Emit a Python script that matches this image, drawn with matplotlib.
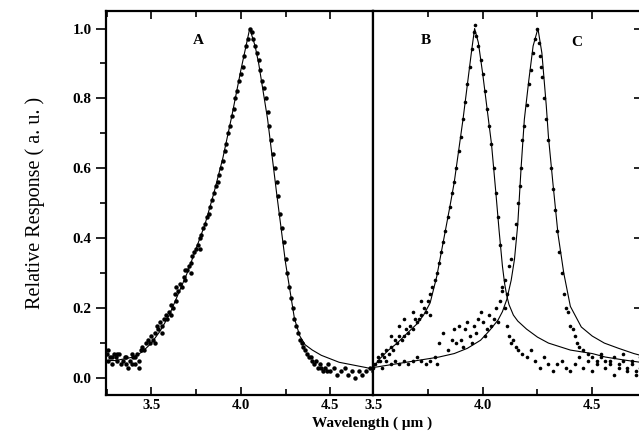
import matplotlib
matplotlib.use("Agg")
import matplotlib.pyplot as plt
from matplotlib.ticker import MultipleLocator

plt.rcParams['font.family'] = ['Liberation Serif', 'DejaVu Serif']

# ---- panel A : measured points ----
xA_pts = [3.25, 3.26, 3.27, 3.28, 3.29, 3.30, 3.31, 3.32, 3.33, 3.34, 3.35, 3.36, 3.37, 3.38, 3.39,
          3.40, 3.41, 3.42, 3.43, 3.44, 3.45, 3.46, 3.47, 3.48, 3.49, 3.50, 3.51, 3.52, 3.53, 3.54,
          3.55, 3.56, 3.57, 3.58, 3.59, 3.60, 3.61, 3.62, 3.63, 3.64, 3.65, 3.66, 3.67, 3.68, 3.69,
          3.70, 3.71, 3.72, 3.73, 3.74, 3.75, 3.76, 3.77, 3.78, 3.79, 3.80, 3.81, 3.82, 3.83, 3.84,
          3.85, 3.86, 3.87, 3.88, 3.89, 3.90, 3.91, 3.92, 3.93, 3.94, 3.95, 3.96, 3.97, 3.98, 3.99,
          4.00, 4.01, 4.02, 4.03, 4.04, 4.05,
          3.26, 3.28, 3.31, 3.36, 3.39, 3.41, 3.43, 3.52, 3.56, 3.61, 3.64, 3.69, 3.72, 3.77,
          4.06, 4.07, 4.08, 4.09, 4.10, 4.11, 4.12, 4.13, 4.14, 4.15, 4.16, 4.17, 4.18, 4.19, 4.20,
          4.21, 4.22, 4.23, 4.24, 4.25, 4.26, 4.27, 4.28, 4.29, 4.30, 4.31, 4.32, 4.33, 4.34, 4.35,
          4.36, 4.37, 4.38, 4.39, 4.40, 4.41, 4.42, 4.43, 4.44, 4.45, 4.46, 4.47, 4.48, 4.49, 4.50,
          4.52, 4.54, 4.56, 4.58, 4.60, 4.62, 4.64, 4.66, 4.68, 4.70, 4.72, 4.74]
yA_pts = [0.07, 0.05, 0.06, 0.04, 0.07, 0.06, 0.05, 0.07, 0.04, 0.05, 0.06, 0.04, 0.03, 0.05, 0.07,
          0.06, 0.04, 0.07, 0.05, 0.08, 0.09, 0.08, 0.10, 0.11, 0.10, 0.12, 0.11, 0.13, 0.15, 0.14,
          0.16, 0.15, 0.17, 0.18, 0.17, 0.19, 0.21, 0.20, 0.24, 0.22, 0.25, 0.27, 0.26, 0.29, 0.28,
          0.31, 0.32, 0.33, 0.35, 0.36, 0.37, 0.38, 0.40, 0.41, 0.43, 0.44, 0.46, 0.47, 0.49, 0.51,
          0.53, 0.55, 0.56, 0.58, 0.60, 0.62, 0.65, 0.67, 0.70, 0.72, 0.75, 0.77, 0.80, 0.82, 0.85,
          0.87, 0.89, 0.92, 0.95, 0.97, 1.00,
          0.08, 0.06, 0.07, 0.06, 0.04, 0.06, 0.03, 0.10, 0.13, 0.18, 0.26, 0.31, 0.30, 0.37,
          0.99, 0.97, 0.95, 0.93, 0.91, 0.88, 0.85, 0.83, 0.80, 0.76, 0.72, 0.68, 0.64, 0.60, 0.56,
          0.52, 0.47, 0.43, 0.39, 0.34, 0.30, 0.26, 0.23, 0.20, 0.17, 0.15, 0.13, 0.11, 0.10, 0.09,
          0.08, 0.07, 0.06, 0.06, 0.05, 0.04, 0.05, 0.03, 0.04, 0.03, 0.02, 0.03, 0.02, 0.04, 0.02,
          0.03, 0.01, 0.02, 0.03, 0.01, 0.02, 0.00, 0.02, 0.01, 0.02, 0.03, 0.02]

# ---- panel A : fitted curve ----
xA_fit = [3.25, 3.30, 3.35, 3.40, 3.45, 3.50, 3.55, 3.60, 3.65, 3.70, 3.75, 3.80, 3.85, 3.90,
          3.95, 4.00, 4.05, 4.08, 4.10, 4.15, 4.20, 4.25, 4.30, 4.33, 4.36, 4.40, 4.45, 4.50,
          4.55, 4.60, 4.65, 4.70, 4.74]
yA_fit = [0.05, 0.05, 0.055, 0.06, 0.075, 0.10, 0.135, 0.18, 0.24, 0.30, 0.37, 0.44, 0.53, 0.63,
          0.75, 0.88, 1.00, 0.95, 0.90, 0.74, 0.53, 0.33, 0.17, 0.12, 0.095, 0.08, 0.065, 0.055,
          0.045, 0.04, 0.035, 0.03, 0.025]

# ---- panel B : measured points ----
xB_pts = [3.50, 3.51, 3.52, 3.53, 3.54, 3.55, 3.56, 3.57, 3.58, 3.59, 3.60, 3.61, 3.62, 3.63, 3.64,
          3.65, 3.66, 3.67, 3.68, 3.69, 3.70, 3.71, 3.72, 3.73, 3.74, 3.75, 3.76, 3.77, 3.78, 3.79,
          3.80, 3.81, 3.82, 3.83, 3.84, 3.85, 3.86, 3.87, 3.88, 3.89, 3.90, 3.91, 3.92, 3.93, 3.94,
          3.95, 3.96, 3.965, 3.97, 3.98, 3.99, 4.00, 4.01, 4.02, 4.03, 4.04, 4.05, 4.06, 4.07, 4.08,
          4.09, 4.10, 4.11, 4.12, 4.13, 4.14, 4.15, 4.16, 4.18, 4.20, 4.22, 4.24, 4.26, 4.28, 4.30,
          4.32, 4.34, 4.36, 4.38, 4.40, 4.42, 4.44, 4.46, 4.48, 4.50, 4.52, 4.54, 4.56, 4.58, 4.60,
          4.62, 4.64, 4.66, 4.68, 4.70, 4.72,
          3.58, 3.62, 3.64, 3.68, 3.72, 3.76]
yB_pts = [0.03, 0.04, 0.06, 0.05, 0.07, 0.06, 0.08, 0.07, 0.09, 0.08, 0.11, 0.10, 0.12, 0.11, 0.12,
          0.14, 0.13, 0.15, 0.14, 0.17, 0.16, 0.17, 0.18, 0.20, 0.19, 0.22, 0.24, 0.26, 0.28, 0.30,
          0.33, 0.36, 0.39, 0.42, 0.46, 0.49, 0.53, 0.56, 0.60, 0.65, 0.69, 0.74, 0.79, 0.84, 0.89,
          0.94, 0.99, 1.01, 0.98, 0.95, 0.91, 0.87, 0.82, 0.77, 0.72, 0.67, 0.60, 0.53, 0.46, 0.38,
          0.26, 0.20, 0.15, 0.12, 0.10, 0.11, 0.09, 0.08, 0.07, 0.06, 0.08, 0.05, 0.03, 0.06, 0.04,
          0.02, 0.04, 0.05, 0.03, 0.02, 0.04, 0.06, 0.03, 0.05, 0.02, 0.04, 0.06, 0.03, 0.05, 0.01,
          0.04, 0.07, 0.03, 0.05, 0.02, 0.06,
          0.12, 0.15, 0.17, 0.19, 0.22, 0.18]

# ---- panel B : fitted curve ----
xB_fit = [3.50, 3.53, 3.57, 3.61, 3.65, 3.70, 3.73, 3.76, 3.79, 3.82, 3.85, 3.87, 3.89, 3.91,
          3.93, 3.95, 3.963, 3.98, 4.00, 4.02, 4.04, 4.06, 4.075, 4.09, 4.10, 4.11, 4.12, 4.14,
          4.16, 4.20, 4.25, 4.30, 4.40, 4.50, 4.56, 4.64, 4.72]
yB_fit = [0.03, 0.055, 0.08, 0.10, 0.125, 0.155, 0.18, 0.215, 0.29, 0.39, 0.49, 0.56, 0.65, 0.74,
          0.84, 0.94, 1.00, 0.96, 0.87, 0.77, 0.67, 0.53, 0.42, 0.32, 0.27, 0.235, 0.21, 0.18,
          0.163, 0.14, 0.117, 0.10, 0.08, 0.07, 0.06, 0.052, 0.045]

# ---- panel C : measured points ----
xC_pts = [3.50, 3.52, 3.54, 3.56, 3.58, 3.60, 3.62, 3.64, 3.66, 3.68, 3.70, 3.72, 3.74, 3.76, 3.78,
          3.79, 3.80, 3.82, 3.84, 3.86, 3.87, 3.88, 3.89, 3.90, 3.91, 3.92, 3.93, 3.94, 3.95, 3.96,
          3.97, 3.98, 3.99, 4.00, 4.01, 4.02, 4.03, 4.04, 4.05, 4.06, 4.07, 4.08, 4.09, 4.10, 4.11,
          4.12, 4.13, 4.14, 4.15, 4.16, 4.17, 4.175, 4.18, 4.19, 4.20, 4.21, 4.22, 4.23, 4.24, 4.25,
          4.255, 4.26, 4.265, 4.27, 4.28, 4.29, 4.30, 4.31, 4.32, 4.33, 4.34, 4.35, 4.36, 4.37, 4.38,
          4.39, 4.40, 4.41, 4.42, 4.43, 4.44, 4.46, 4.48, 4.50, 4.52, 4.54, 4.56, 4.58, 4.60, 4.62,
          4.64, 4.66, 4.68, 4.70, 4.72]
yC_pts = [0.04, 0.05, 0.03, 0.05, 0.04, 0.05, 0.04, 0.05, 0.04, 0.05, 0.06, 0.05, 0.04, 0.05, 0.06,
          0.04, 0.10, 0.13, 0.08, 0.11, 0.14, 0.10, 0.15, 0.11, 0.09, 0.14, 0.16, 0.12, 0.10, 0.15,
          0.13, 0.17, 0.19, 0.16, 0.12, 0.14, 0.18, 0.15, 0.17, 0.20, 0.16, 0.22, 0.25, 0.28, 0.24,
          0.32, 0.34, 0.40, 0.44, 0.50, 0.55, 0.60, 0.68, 0.72, 0.78, 0.84, 0.88, 0.93, 0.97, 1.00,
          0.96, 0.92, 0.89, 0.86, 0.80, 0.74, 0.68, 0.60, 0.54, 0.48, 0.42, 0.36, 0.30, 0.24, 0.20,
          0.19, 0.15, 0.14, 0.12, 0.10, 0.09, 0.08, 0.07, 0.06, 0.05, 0.07, 0.05, 0.04, 0.06, 0.03,
          0.05, 0.02, 0.04, 0.01, 0.03]

# ---- panel C : fitted curve ----
xC_fit = [3.50, 3.60, 3.70, 3.80, 3.87, 3.93, 3.99, 4.03, 4.07, 4.09, 4.11, 4.13, 4.145, 4.16,
          4.175, 4.19, 4.21, 4.23, 4.252, 4.27, 4.29, 4.30, 4.32, 4.344, 4.37, 4.40, 4.45, 4.50,
          4.555, 4.62, 4.69, 4.72]
yC_fit = [0.03, 0.04, 0.05, 0.06, 0.07, 0.085, 0.108, 0.135, 0.166, 0.19, 0.225, 0.28, 0.34, 0.44,
          0.60, 0.74, 0.85, 0.95, 1.00, 0.93, 0.78, 0.69, 0.56, 0.41, 0.30, 0.205, 0.146, 0.12,
          0.10, 0.085, 0.07, 0.065]

fig = plt.figure(figsize=(6.39, 4.42), dpi=100)
axA = fig.add_axes([0.166, 0.106, 0.418, 0.869])
axB = fig.add_axes([0.584, 0.106, 0.420, 0.869])

axA.plot(xA_fit, yA_fit, color='black', lw=0.8)
axA.plot(xA_pts, yA_pts, 'o', color='black', ms=3.2, mew=0)
axB.plot(xB_fit, yB_fit, color='black', lw=0.8)
axB.plot(xC_fit, yC_fit, color='black', lw=0.8)
axB.plot(xB_pts, yB_pts, 'o', color='black', ms=2.6, mew=0)
axB.plot(xC_pts, yC_pts, 'o', color='black', ms=2.6, mew=0)

axA.set_xlim(3.247, 4.74)
axB.set_xlim(3.5, 4.725)
for ax in (axA, axB):
    ax.set_ylim(-0.049, 1.05)
    for s in ax.spines.values():
        s.set_linewidth(1.6)
    ax.xaxis.set_minor_locator(MultipleLocator(0.25))
    ax.tick_params(axis='x', which='both', direction='in', top=True, width=1.2)
    ax.tick_params(axis='x', which='major', length=6, labelsize=10.5, pad=3)
    ax.tick_params(axis='x', which='minor', length=4)
    ax.set_xticks([3.5, 4.0, 4.5])
    ax.set_xticklabels(['3.5', '4.0', '4.5'], fontweight='bold')

axA.yaxis.set_minor_locator(MultipleLocator(0.1))
axA.tick_params(axis='y', which='both', direction='out', width=1.2)
axA.tick_params(axis='y', which='major', length=7, labelsize=11)
axA.tick_params(axis='y', which='minor', length=4)
axA.set_yticks([0.0, 0.2, 0.4, 0.6, 0.8, 1.0])
axA.set_yticklabels(['0.0', '0.2', '0.4', '0.6', '0.8', '1.0'], fontweight='bold')

axB.yaxis.tick_right()
axB.set_yticks([0.2, 0.4, 0.6, 0.8, 1.0])
axB.tick_params(axis='y', which='both', direction='in', length=6, width=1.2,
                labelright=False, left=False)

axA.text(3.76, 0.965, 'A', fontsize=11, fontweight='bold', ha='center', va='center')
axB.text(3.74, 0.965, 'B', fontsize=11, fontweight='bold', ha='center', va='center')
axB.text(4.43, 0.96, 'C', fontsize=11, fontweight='bold', ha='center', va='center')

axA.set_ylabel('Relative Response ( a. u. )', fontsize=14.5, labelpad=20)
fig.text(0.582, 0.042, 'Wavelength ( \u03bcm )', fontsize=11, fontweight='bold',
         ha='center', va='center')

fig.savefig('out.png', dpi=100)
